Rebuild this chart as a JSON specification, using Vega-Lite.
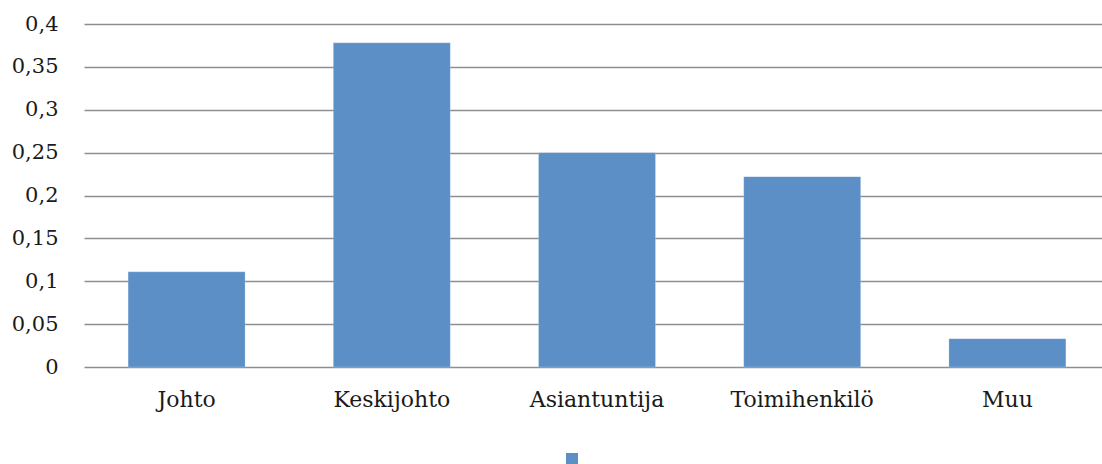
{
  "$schema": "https://vega.github.io/schema/vega-lite/v6.json",
  "width": 1018,
  "height": 343,
  "autosize": {"type": "none"},
  "padding": {"left": 84, "top": 24, "right": 0, "bottom": 97},
  "background": "white",
  "config": {
    "view": {"stroke": null},
    "font": "DejaVu Serif",
    "axis": {"labelFont": "DejaVu Serif", "labelFontSize": 22, "labelColor": "#1a1a1a"}
  },
  "data": {
    "values": [
      {"category": "Johto", "value": 0.111, "series": "s"},
      {"category": "Keskijohto", "value": 0.378, "series": "s"},
      {"category": "Asiantuntija", "value": 0.25, "series": "s"},
      {"category": "Toimihenkilö", "value": 0.222, "series": "s"},
      {"category": "Muu", "value": 0.033, "series": "s"}
    ]
  },
  "mark": {"type": "bar", "stroke": "#ffffff", "strokeWidth": 0.5, "strokeOpacity": 0.4},
  "encoding": {
    "x": {
      "field": "category",
      "type": "nominal",
      "sort": null,
      "scale": {"range": [0, 1026], "paddingInner": 0.43, "paddingOuter": 0.215},
      "axis": {"title": null, "labelAngle": 0, "ticks": false, "domain": false, "labelPadding": 22, "labelBaseline": "top"}
    },
    "y": {
      "field": "value",
      "type": "quantitative",
      "scale": {"domain": [0, 0.4], "nice": false},
      "axis": {
        "title": null,
        "values": [0, 0.05, 0.1, 0.15, 0.2, 0.25, 0.3, 0.35, 0.4],
        "labelExpr": "replace(format(datum.value, '~g'), '.', ',')",
        "labelFontSize": 21,
        "ticks": false,
        "domain": false,
        "labelPadding": 26,
        "gridColor": "#8e8e8e",
        "gridWidth": 1.5,
        "gridOpacity": 1
      }
    },
    "color": {
      "field": "series",
      "type": "nominal",
      "scale": {"range": ["#5b8fc6"]},
      "legend": {
        "title": null,
        "orient": "none",
        "legendX": 482,
        "legendY": 429,
        "symbolType": "square",
        "symbolSize": 144,
        "symbolStrokeWidth": 0,
        "labelExpr": "''",
        "labelFontSize": 1
      }
    }
  }
}
